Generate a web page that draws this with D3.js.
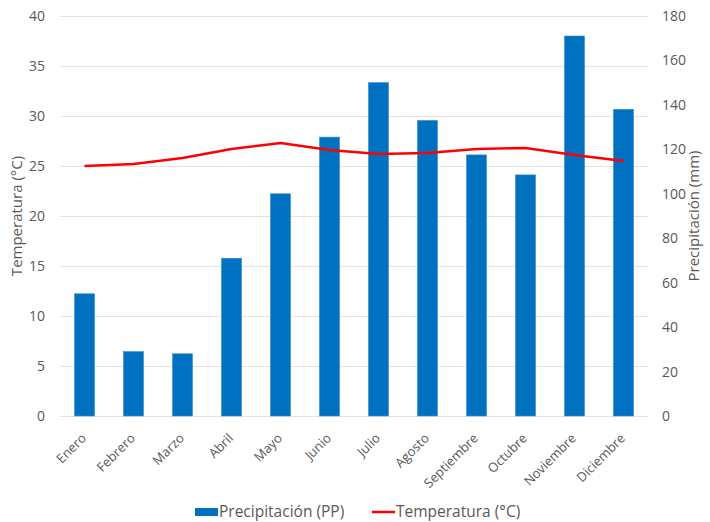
<!DOCTYPE html>
<html><head><meta charset="utf-8">
<script src="https://cdn.jsdelivr.net/npm/d3@7"></script>
<style>body{margin:0;background:#fff}svg{display:block}text{font-family:"Open Sans",sans-serif;fill:#595959}</style>
</head><body>
<script>
const months = ["Enero","Febrero","Marzo","Abril","Mayo","Junio","Julio","Agosto","Septiembre","Octubre","Noviembre","Diciembre"];
const precipitation = [55, 29, 28, 71, 100, 125.5, 150, 133, 117.5, 108.5, 171, 138];
const temperature = [25.0, 25.2, 25.8, 26.7, 27.3, 26.6, 26.2, 26.3, 26.7, 26.8, 26.1, 25.5];
const tempTicks = [0,5,10,15,20,25,30,35,40];
const precTicks = [0,20,40,60,80,100,120,140,160,180];

const W = 710, H = 522;
const m = {left:60, right:648, top:16, bottom:416};
const svg = d3.select("body").append("svg").attr("width",W).attr("height",H);

const x = d3.scaleBand().domain(months).range([m.left,m.right]).paddingInner(0.59).paddingOuter(0.295);
const xc = d3.scalePoint().domain(months).range([m.left,m.right]).padding(0.5);
const yT = d3.scaleLinear().domain([0,40]).range([m.bottom,m.top]);
const yP = d3.scaleLinear().domain([0,180]).range([m.bottom,m.top]);

// gridlines
svg.append("g").selectAll("line").data(tempTicks).join("line")
  .attr("x1",m.left).attr("x2",m.right)
  .attr("y1",d=>yT(d)+0.5).attr("y2",d=>yT(d)+0.5)
  .attr("stroke","#e3e3e3").attr("stroke-width",1);

// left axis
const gl = svg.append("g").attr("transform",`translate(${m.left},0)`)
  .call(d3.axisLeft(yT).tickValues(tempTicks).tickSize(0).tickPadding(15));
gl.select(".domain").remove();
gl.selectAll("text").style("font-size","14px").attr("fill","#595959");

// right axis
const gr = svg.append("g").attr("transform",`translate(${m.right},0)`)
  .call(d3.axisRight(yP).tickValues(precTicks).tickSize(0).tickPadding(14));
gr.select(".domain").remove();
gr.selectAll("text").style("font-size","14px").attr("fill","#595959");

// bars
svg.append("g").selectAll("rect").data(months).join("rect")
  .attr("x",d=>x(d)).attr("width",x.bandwidth())
  .attr("y",(d,i)=>yP(precipitation[i])).attr("height",(d,i)=>yP(0)-yP(precipitation[i]))
  .attr("fill","#0070C0").attr("stroke","#3d8fd0").attr("stroke-width",0.6);

// line
const line = d3.line().x((d,i)=>xc(months[i])).y(d=>yT(d));
svg.append("path").datum(temperature).attr("d",line)
  .attr("fill","none").attr("stroke","#FF0000").attr("stroke-width",2.5).attr("stroke-linejoin","round");

// x axis labels
const gx = svg.append("g").attr("transform",`translate(0,${m.bottom})`)
  .call(d3.axisBottom(xc).tickSize(0).tickPadding(0));
gx.select(".domain").remove();
gx.selectAll("text").style("font-size","13px").attr("fill","#595959")
  .attr("text-anchor","end").attr("dy",0).attr("y",0)
  .attr("transform","translate(2,23) rotate(-45)");

// axis titles
svg.append("text").attr("transform",`translate(22,${(m.top+m.bottom)/2}) rotate(-90)`)
  .attr("text-anchor","middle").style("font-size","15px").text("Temperatura (°C)");
svg.append("text").attr("transform",`translate(699,${(m.top+m.bottom)/2}) rotate(-90)`)
  .attr("text-anchor","middle").style("font-size","15px").text("Precipitación (mm)");

// legend
const lg = svg.append("g");
lg.append("rect").attr("x",195).attr("y",508).attr("width",23).attr("height",8).attr("fill","#0070C0");
lg.append("text").attr("x",219).attr("y",516.5).style("font-size","15.5px").text("Precipitación (PP)");
lg.append("line").attr("x1",372).attr("x2",395).attr("y1",512).attr("y2",512).attr("stroke","#FF0000").attr("stroke-width",2.5);
lg.append("text").attr("x",396).attr("y",516.5).style("font-size","15.5px").text("Temperatura (°C)");
</script>
</body></html>
